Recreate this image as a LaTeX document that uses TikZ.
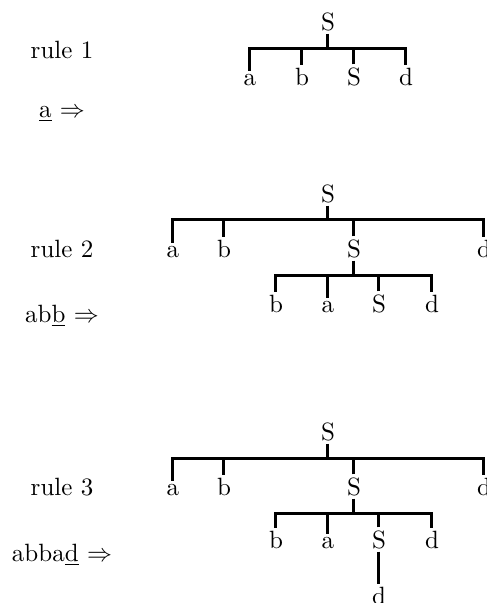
\documentclass[tikz,border=0pt]{standalone}
\usetikzlibrary{positioning}

\tikzset{
  sym/.style={inner sep=1pt, anchor=base},
  lbl/.style={inner sep=0pt, anchor=base},
  branch/.style={line width=1.2pt}
}

\begin{document}
\begin{tikzpicture}[x=0.4pt, y=-0.4pt]
  \useasboundingbox (0,0) rectangle (487,603);

  % rule 1
  \node[lbl] (r1) at (62,58) {rule 1};
  \node[lbl] (w1) at (62,117) {\underline{a} $\Rightarrow$};
  \node[sym] (s1) at (328,30) {S};
  \node[sym] (a1) at (250,85) {a};
  \node[sym] (b1) at (302,85) {b};
  \node[sym] (t1) at (354,85) {S};
  \node[sym] (d1) at (406,85) {d};
  \coordinate (j1) at (328,48);
  \draw[branch] (s1.south) -- (j1);
  \draw[branch] (a1.north) |- (j1) -| (d1.north);
  \draw[branch] (b1.north) -- (b1.north |- j1);
  \draw[branch] (t1.north) -- (t1.north |- j1);

  % rule 2
  \node[lbl] (r2) at (62,257) {rule 2};
  \node[lbl] (w2) at (62,322) {ab\underline{b} $\Rightarrow$};
  \node[sym] (s2) at (328,202) {S};
  \node[sym] (a2) at (173,257) {a};
  \node[sym] (b2) at (224,257) {b};
  \node[sym] (t2) at (354,257) {S};
  \node[sym] (d2) at (484,257) {d};
  \coordinate (j2) at (328,219);
  \draw[branch] (s2.south) -- (j2);
  \draw[branch] (a2.north) |- (j2) -| (d2.north);
  \draw[branch] (b2.north) -- (b2.north |- j2);
  \draw[branch] (t2.north) -- (t2.north |- j2);
  \node[sym] (bb2) at (276,312) {b};
  \node[sym] (aa2) at (328,312) {a};
  \node[sym] (tt2) at (379,312) {S};
  \node[sym] (dd2) at (432,312) {d};
  \coordinate (k2) at (354,275);
  \draw[branch] (t2.south) -- (k2);
  \draw[branch] (bb2.north) |- (k2) -| (dd2.north);
  \draw[branch] (aa2.north) -- (aa2.north |- k2);
  \draw[branch] (tt2.north) -- (tt2.north |- k2);

  % rule 3
  \node[lbl] (r3) at (62,495) {rule 3};
  \node[lbl] (w3) at (62,561) {abba\underline{d} $\Rightarrow$};
  \node[sym] (s3) at (328,440) {S};
  \node[sym] (a3) at (173,495) {a};
  \node[sym] (b3) at (224,495) {b};
  \node[sym] (t3) at (354,495) {S};
  \node[sym] (d3) at (484,495) {d};
  \coordinate (j3) at (328,458);
  \draw[branch] (s3.south) -- (j3);
  \draw[branch] (a3.north) |- (j3) -| (d3.north);
  \draw[branch] (b3.north) -- (b3.north |- j3);
  \draw[branch] (t3.north) -- (t3.north |- j3);
  \node[sym] (bb3) at (276,548) {b};
  \node[sym] (aa3) at (328,548) {a};
  \node[sym] (tt3) at (379,548) {S};
  \node[sym] (dd3) at (432,548) {d};
  \coordinate (k3) at (354,513);
  \draw[branch] (t3.south) -- (k3);
  \draw[branch] (bb3.north) |- (k3) -| (dd3.north);
  \draw[branch] (aa3.north) -- (aa3.north |- k3);
  \draw[branch] (tt3.north) -- (tt3.north |- k3);
  \node[sym] (ddd3) at (379,604) {d};
  \draw[branch] (tt3.south) -- (ddd3.north);
\end{tikzpicture}
\end{document}
